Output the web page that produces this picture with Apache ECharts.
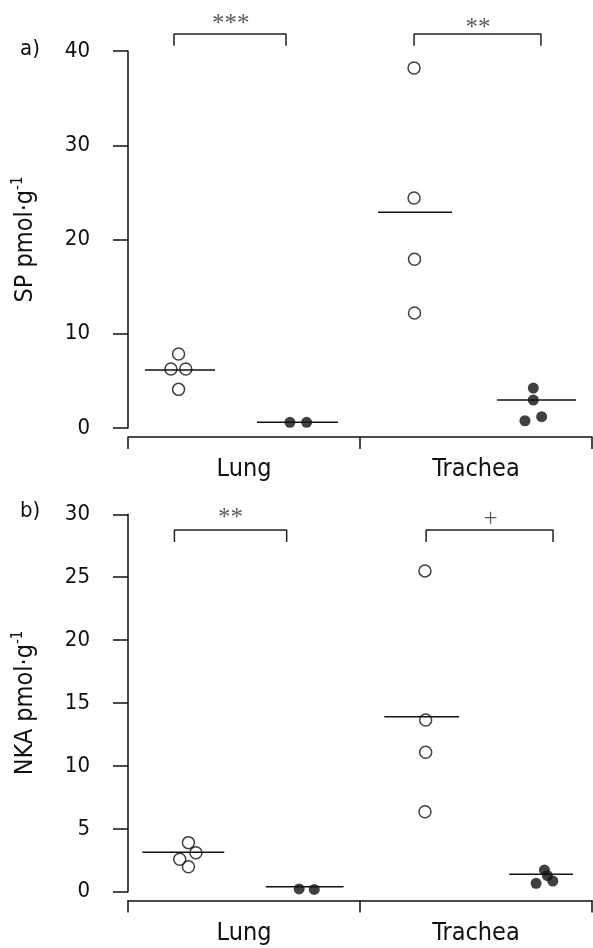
<!DOCTYPE html>
<html><head><meta charset="utf-8">
<script src="https://cdn.jsdelivr.net/npm/echarts@6/dist/echarts.min.js"></script>
<style>html,body{margin:0;padding:0;background:#fff}#c{width:593px;height:948px}</style>
</head><body><div id="c"></div>
<script>
// ---------- data ----------
const categories = ['Lung', 'Trachea'];
const spTicks = { min: 0, max: 40, step: 10 };
const nkaTicks = { min: 0, max: 30, step: 5 };

// panel a) SP pmol·g-1
const spLungOpen = [7.85, 6.26, 6.26, 4.1];
const spLungFilled = [0.6, 0.6];
const spTracheaOpen = [38.2, 24.4, 17.9, 12.2];
const spTracheaFilled = [4.24, 2.97, 0.77, 1.2];
const spMedians = [6.15, 0.6, 22.9, 2.97];
const spSignif = ['***', '**'];

// panel b) NKA pmol·g-1
const nkaLungOpen = [3.9, 3.1, 2.58, 1.99];
const nkaLungFilled = [0.22, 0.18];
const nkaTracheaOpen = [25.5, 13.65, 11.08, 6.36];
const nkaTracheaFilled = [1.72, 1.27, 0.85, 0.67];
const nkaMedians = [3.13, 0.4, 13.9, 1.38];
const nkaSignif = ['**', '+'];

// ---------- layout (category units: each category spans 1) ----------
const layoutA = {
  xs: [[0.218, 0.185, 0.249, 0.218], [0.698, 0.770], [1.233, 1.233, 1.235, 1.235], [1.747, 1.747, 1.711, 1.783]],
  spans: [[0.073, 0.375], [0.556, 0.905], [1.078, 1.397], [1.591, 1.931]],
  brackets: [[0.198, 0.681], [1.233, 1.78]],
  bracketTop: 41.8, bracketLeg: 40.55,
  signifX: [0.443, 1.509], signifY: [42.85, 42.4]
};
const layoutB = {
  xs: [[0.2605, 0.2928, 0.223, 0.2605], [0.7376, 0.803], [1.28, 1.283, 1.283, 1.28], [1.795, 1.808, 1.831, 1.759]],
  spans: [[0.062, 0.415], [0.594, 0.929], [1.105, 1.427], [1.643, 1.918]],
  brackets: [[0.2, 0.684], [1.285, 1.832]],
  bracketTop: 28.75, bracketLeg: 27.8,
  signifX: [0.442, 1.563], signifY: [29.65, 29.63]
};

const FONT = "'Liberation Sans Narrow','DejaVu Sans Condensed',sans-serif";
const INK = '#111';

function panelSeries(xi, yi, groups, medians, L, signif) {
  const s = [];
  groups.forEach((g, gi) => {
    s.push({
      type: 'scatter', xAxisIndex: xi, yAxisIndex: yi, z: 3,
      symbol: 'circle', symbolSize: g.filled ? 11 : 12,
      itemStyle: g.filled ? { color: INK } : { color: 'rgba(255,255,255,0)', borderColor: INK, borderWidth: 1.5 },
      data: g.values.map((v, i) => [L.xs[gi][i], v]),
      silent: true
    });
  });
  medians.forEach((m, i) => {
    s.push({
      type: 'line', xAxisIndex: xi, yAxisIndex: yi, z: 4, symbol: 'none',
      lineStyle: { color: INK, width: 1.5 },
      data: [[L.spans[i][0], m], [L.spans[i][1], m]], silent: true
    });
  });
  L.brackets.forEach((b) => {
    s.push({
      type: 'line', xAxisIndex: xi, yAxisIndex: yi, symbol: 'none', clip: false,
      lineStyle: { color: '#222', width: 1.5 },
      data: [[b[0], L.bracketLeg], [b[0], L.bracketTop], [b[1], L.bracketTop], [b[1], L.bracketLeg]],
      silent: true
    });
  });
  s.push({
    type: 'scatter', xAxisIndex: xi, yAxisIndex: yi, symbolSize: 0, clip: false,
    data: signif.map((t, i) => ({ value: [L.signifX[i], L.signifY[i]], name: t })),
    label: { show: true, position: 'inside', formatter: p => p.name,
      fontFamily: "'Liberation Serif','DejaVu Serif',serif", fontSize: 25, color: '#333' },
    silent: true
  });
  return s;
}

function valueY(grid, t, name) {
  return {
    type: 'value', gridIndex: grid, min: t.min, max: t.max, interval: t.step, offset: 3,
    axisLine: { show: true, lineStyle: { color: INK, width: 1.5 } },
    axisTick: { show: true, length: 15, lineStyle: { color: INK, width: 1.5 } },
    axisLabel: { margin: 35, fontSize: 22, fontFamily: FONT, color: INK },
    splitLine: { show: false },
    name: '{a|' + name + '}{s|-1}', nameLocation: 'middle', nameRotate: 90, nameGap: 86,
    nameTextStyle: { rich: {
      a: { fontSize: 25, fontFamily: FONT, color: INK, lineHeight: 28 },
      s: { fontSize: 15, fontFamily: FONT, color: INK, verticalAlign: 'top', lineHeight: 28 }
    } }
  };
}
function catX(grid) {
  return {
    type: 'category', gridIndex: grid, data: categories, boundaryGap: true, position: 'bottom',
    axisLine: { show: true, lineStyle: { color: INK, width: 1.5 } },
    axisTick: { show: true, length: 12, lineStyle: { color: INK, width: 1.5 } },
    axisLabel: { margin: 20, fontSize: 25, fontFamily: FONT, color: INK }
  };
}
const hiddenX = g => ({ type: 'value', gridIndex: g, min: 0, max: categories.length, show: false });
const hiddenY = g => ({ type: 'value', gridIndex: g, show: false });

const option = {
  animation: false,
  backgroundColor: '#fff',
  grid: [
    { left: 128, right: 1, top: 51, height: 377 },
    { left: 128, right: 1, top: 436, height: 1 },
    { left: 128, right: 1, top: 514.3, height: 377.4 },
    { left: 128, right: 1, top: 899.5, height: 1 }
  ],
  xAxis: [hiddenX(0), catX(1), hiddenX(2), catX(3)],
  yAxis: [valueY(0, spTicks, 'SP pmol·g'), hiddenY(1), valueY(2, nkaTicks, 'NKA pmol·g'), hiddenY(3)],
  graphic: [
    { type: 'text', left: 20, top: 38, style: { text: 'a)', fontSize: 22, fontFamily: FONT, fill: INK } },
    { type: 'text', left: 20, top: 500, style: { text: 'b)', fontSize: 22, fontFamily: FONT, fill: INK } }
  ],
  series: [].concat(
    panelSeries(0, 0, [
      { values: spLungOpen, filled: false }, { values: spLungFilled, filled: true },
      { values: spTracheaOpen, filled: false }, { values: spTracheaFilled, filled: true }
    ], spMedians, layoutA, spSignif),
    panelSeries(2, 2, [
      { values: nkaLungOpen, filled: false }, { values: nkaLungFilled, filled: true },
      { values: nkaTracheaOpen, filled: false }, { values: nkaTracheaFilled, filled: true }
    ], nkaMedians, layoutB, nkaSignif)
  )
};
const chart = echarts.init(document.getElementById('c'));
chart.setOption(option);
</script>
</body></html>
